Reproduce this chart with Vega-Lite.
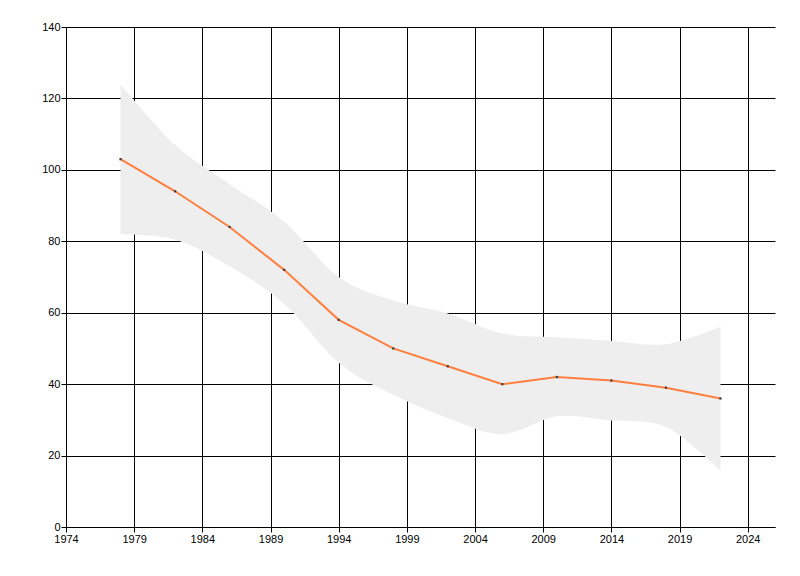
{
  "$schema": "https://vega.github.io/schema/vega-lite/v6.json",
  "width": 709,
  "height": 500,
  "autosize": "none",
  "padding": {"left": 66, "top": 27, "right": 25, "bottom": 49},
  "background": "white",
  "data": {
    "values": [
      {"year": 1978, "value": 103, "lower": 82, "upper": 124},
      {"year": 1982, "value": 94, "lower": 80.5, "upper": 107},
      {"year": 1986, "value": 84, "lower": 73, "upper": 96},
      {"year": 1990, "value": 72, "lower": 62.5, "upper": 85.5},
      {"year": 1994, "value": 58, "lower": 46, "upper": 70},
      {"year": 1998, "value": 50, "lower": 37, "upper": 63.4},
      {"year": 2002, "value": 45, "lower": 30.5, "upper": 59.8},
      {"year": 2006, "value": 40, "lower": 26, "upper": 54.2},
      {"year": 2010, "value": 42, "lower": 31, "upper": 53.1},
      {"year": 2014, "value": 41, "lower": 29.8, "upper": 52.1},
      {"year": 2018, "value": 39, "lower": 28, "upper": 51.2},
      {"year": 2022, "value": 36, "lower": 15.8, "upper": 56.1}
    ]
  },
  "encoding": {
    "x": {
      "field": "year",
      "type": "quantitative",
      "title": null,
      "scale": {"domain": [1974, 2026], "nice": false, "zero": false},
      "axis": {
        "values": [1974, 1979, 1984, 1989, 1994, 1999, 2004, 2009, 2014, 2019, 2024],
        "format": "d"
      }
    }
  },
  "layer": [
    {
      "mark": {"type": "area", "interpolate": "cardinal", "tension": 0, "color": "#eeeeee", "opacity": 1},
      "encoding": {
        "y": {"field": "upper", "type": "quantitative"},
        "y2": {"field": "lower"}
      }
    },
    {
      "mark": {"type": "line", "color": "#ff7f3f", "strokeWidth": 2},
      "encoding": {
        "y": {
          "field": "value",
          "type": "quantitative",
          "title": null,
          "scale": {"domain": [0, 140], "nice": false},
          "axis": {"values": [0, 20, 40, 60, 80, 100, 120, 140]}
        }
      }
    },
    {
      "mark": {"type": "square", "color": "#404040", "size": 5, "opacity": 1},
      "encoding": {
        "y": {"field": "value", "type": "quantitative"}
      }
    }
  ],
  "config": {
    "view": {"stroke": null},
    "axis": {
      "grid": true,
      "gridColor": "#000000",
      "gridOpacity": 1,
      "gridWidth": 1,
      "domainColor": "#000000",
      "domainWidth": 1,
      "tickColor": "#000000",
      "tickSize": 5,
      "tickWidth": 1,
      "labelFont": "Liberation Sans",
      "labelFontSize": 11,
      "labelColor": "#000000",
      "labelPadding": 1,
      "labelFlush": false
    }
  }
}
